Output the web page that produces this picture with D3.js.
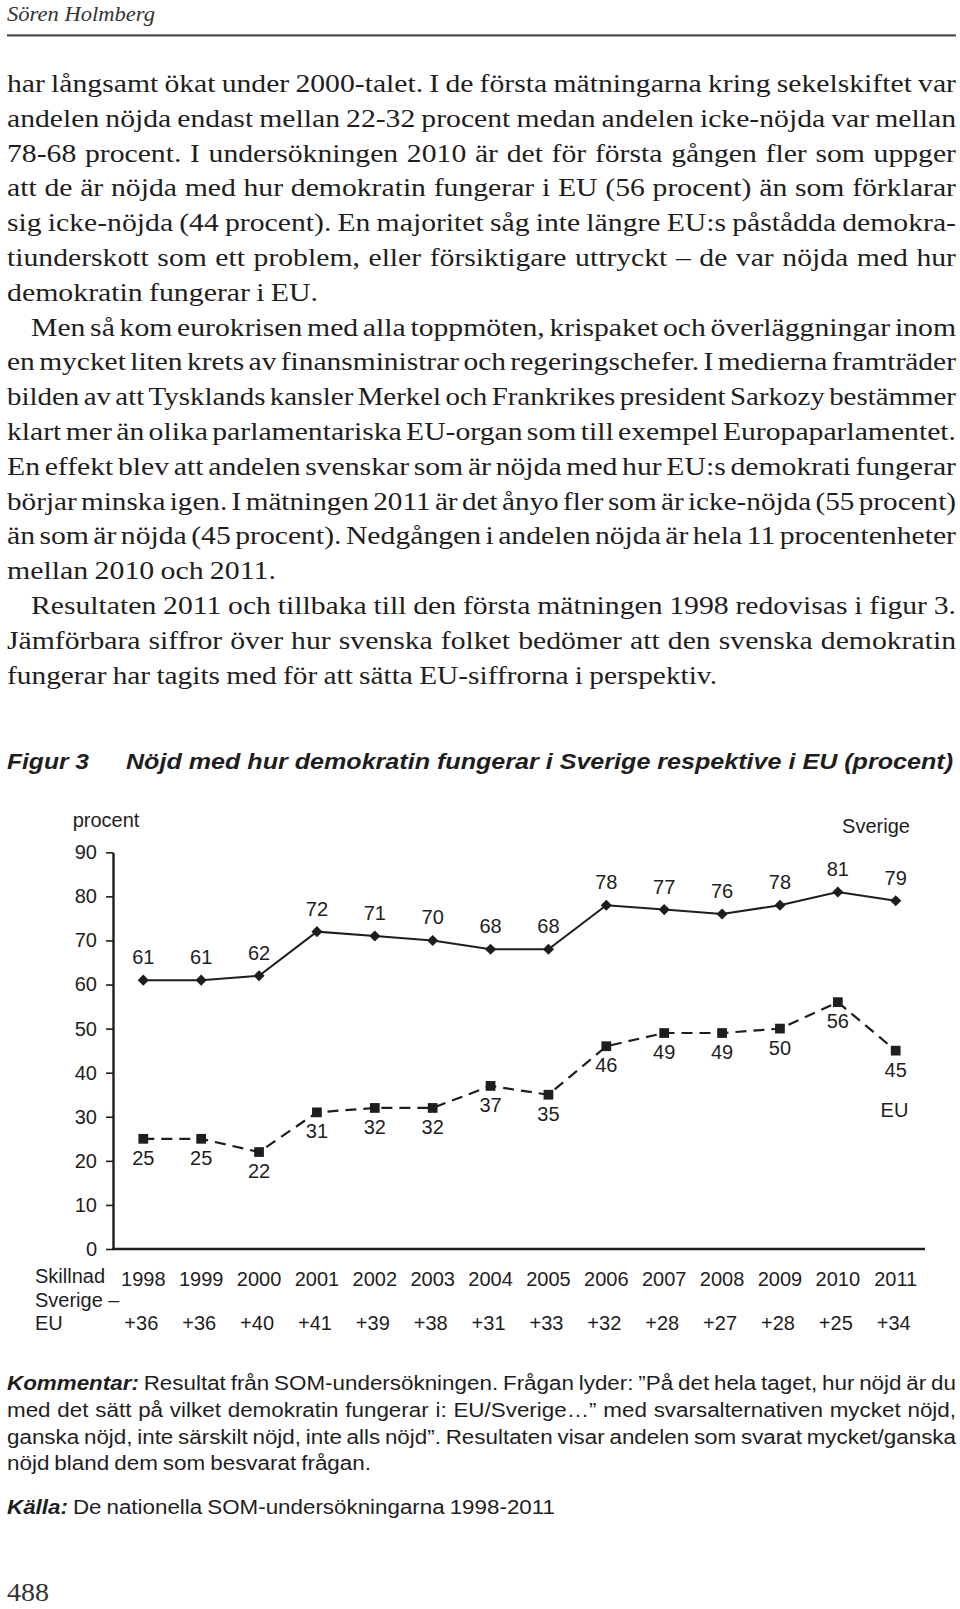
<!DOCTYPE html>
<html>
<head>
<meta charset="utf-8">
<script src="https://cdn.jsdelivr.net/npm/d3@7"></script>
<style>
  html, body { margin: 0; padding: 0; background: #fff; }
  svg { display: block; }
</style>
</head>
<body>
<svg id="page" width="960" height="1609"></svg>
<script>
// ---------------- data ----------------
const years = [1998, 1999, 2000, 2001, 2002, 2003, 2004, 2005, 2006, 2007, 2008, 2009, 2010, 2011];
const sverige = [61, 61, 62, 72, 71, 70, 68, 68, 78, 77, 76, 78, 81, 79];
const eu = [25, 25, 22, 31, 32, 32, 37, 35, 46, 49, 49, 50, 56, 45];
const skillnad = [36, 36, 40, 41, 39, 38, 31, 33, 32, 28, 27, 28, 25, 34];
const yTicks = [0, 10, 20, 30, 40, 50, 60, 70, 80, 90];

const headerText = "Sören Holmberg";
const figLabel = "Figur 3";
const figTitle = "Nöjd med hur demokratin fungerar i Sverige respektive i EU (procent)";
const yAxisTitle = "procent";
const seriesNames = ["Sverige", "EU"];
const diffLabel = ["Skillnad", "Sverige –", "EU"];
const pageNumber = "488";

const bodyLines = [
  "har långsamt ökat under 2000-talet. I de första mätningarna kring sekelskiftet var",
  "andelen nöjda endast mellan 22-32 procent medan andelen icke-nöjda var mellan",
  "78-68 procent. I undersökningen 2010 är det för första gången fler som uppger",
  "att de är nöjda med hur demokratin fungerar i EU (56 procent) än som förklarar",
  "sig icke-nöjda (44 procent). En majoritet såg inte längre EU:s påstådda demokra-",
  "tiunderskott som ett problem, eller försiktigare uttryckt – de var nöjda med hur",
  "demokratin fungerar i EU.",
  "Men så kom eurokrisen med alla toppmöten, krispaket och överläggningar inom",
  "en mycket liten krets av finansministrar och regeringschefer. I medierna framträder",
  "bilden av att Tysklands kansler Merkel och Frankrikes president Sarkozy bestämmer",
  "klart mer än olika parlamentariska EU-organ som till exempel Europaparlamentet.",
  "En effekt blev att andelen svenskar som är nöjda med hur EU:s demokrati fungerar",
  "börjar minska igen. I mätningen 2011 är det ånyo fler som är icke-nöjda (55 procent)",
  "än som är nöjda (45 procent). Nedgången i andelen nöjda är hela 11 procentenheter",
  "mellan 2010 och 2011.",
  "Resultaten 2011 och tillbaka till den första mätningen 1998 redovisas i figur 3.",
  "Jämförbara siffror över hur svenska folket bedömer att den svenska demokratin",
  "fungerar har tagits med för att sätta EU-siffrorna i perspektiv."
];
const bodyIndent = [0,0,0,0,0,0,0,1,0,0,0,0,0,0,0,1,0,0];
const bodyEnd = [956,956,956,956,956,956,318,956,956,956,956,956,956,956,276,956,956,717];
const bodyLast = [0,0,0,0,0,0,1,0,0,0,0,0,0,0,1,0,0,1];

const noteLines = [
  "Kommentar: Resultat från SOM-undersökningen. Frågan lyder: ”På det hela taget, hur nöjd är du",
  "med det sätt på vilket demokratin fungerar i: EU/Sverige…” med svarsalternativen mycket nöjd,",
  "ganska nöjd, inte särskilt nöjd, inte alls nöjd”. Resultaten visar andelen som svarat mycket/ganska",
  "nöjd bland dem som besvarat frågan.",
  "Källa: De nationella SOM-undersökningarna 1998-2011"
];
const noteEnd = [956, 956, 956, 371, 555];
const noteLast = [0, 0, 0, 1, 1];
const boldWords = ["Kommentar:", "Källa:"];

// ---------------- page ----------------
const svg = d3.select("#page");
svg.append("rect").attr("width", 960).attr("height", 1609).attr("fill", "#fff");

const ink = "#1e1e1e";
const serif = "'Liberation Serif', 'DejaVu Serif', serif";
const sans = "'Liberation Sans', Arial, sans-serif";

// header
svg.append("text").attr("x", 7).attr("y", 21)
  .attr("font-family", serif).attr("font-style", "italic").attr("font-size", 21)
  .attr("fill", "#333").attr("textLength", 148).attr("lengthAdjust", "spacingAndGlyphs")
  .text(headerText);
svg.append("rect").attr("x", 7).attr("y", 34.3).attr("width", 949).attr("height", 2.2).attr("fill", "#4a4a4a");

// paragraph layout: words measured, horizontally scaled by a common factor, then justified
function setParagraph(parent, lines, starts, ends, lastFlags, baselines, font, size, spaceEm, boldFn) {
  const rows = lines.map((str, i) => {
    const words = str.split(" ");
    const t = parent.append("text").attr("y", baselines[i])
      .attr("font-family", font).attr("font-size", size).attr("fill", ink);
    const spans = words.map(w => {
      const s = t.append("tspan").text(w);
      if (boldFn && boldFn(w)) s.attr("font-weight", "bold").attr("font-style", "italic");
      return s;
    });
    const widths = spans.map(s => s.node().getComputedTextLength());
    return { spans, widths, sum: d3.sum(widths), n: words.length, x0: starts[i], x1: ends[i], last: lastFlags[i] };
  });
  const nat = spaceEm * size;
  const ks = rows.filter(r => r.last).map(r => (r.x1 - r.x0 - (r.n - 1) * nat) / r.sum);
  const k = d3.mean(ks);
  rows.forEach(r => {
    let kk = k;
    const W = r.x1 - r.x0;
    let gap = r.n > 1 ? (W - r.sum * kk) / (r.n - 1) : 0;
    const minGap = nat * 0.7;
    if (r.n > 1 && gap < minGap) { kk = (W - (r.n - 1) * minGap) / r.sum; gap = minGap; }
    if (r.last) { kk = (W - (r.n - 1) * nat) / r.sum; gap = nat; }
    let cx = r.x0;
    r.spans.forEach((s, i) => {
      const w = r.widths[i] * kk;
      s.attr("x", cx).attr("textLength", w).attr("lengthAdjust", "spacingAndGlyphs");
      cx += w + gap;
    });
  });
}

const body = svg.append("g");
setParagraph(body, bodyLines,
  bodyIndent.map(d => d ? 31 : 7), bodyEnd, bodyLast,
  bodyLines.map((d, i) => 92 + i * 34.8), serif, 26, 0.24);

// figure title
svg.append("text").attr("x", 7).attr("y", 769)
  .attr("font-family", sans).attr("font-weight", "bold").attr("font-style", "italic")
  .attr("font-size", 22).attr("fill", ink)
  .attr("textLength", 82).attr("lengthAdjust", "spacingAndGlyphs").text(figLabel);
svg.append("text").attr("x", 126).attr("y", 769)
  .attr("font-family", sans).attr("font-weight", "bold").attr("font-style", "italic")
  .attr("font-size", 22).attr("fill", ink)
  .attr("textLength", 827).attr("lengthAdjust", "spacingAndGlyphs").text(figTitle);

// ---------------- chart ----------------
const chart = svg.append("g").attr("font-family", sans).attr("fill", ink);
const plotLeft = 113, plotRight = 925;
const x = d3.scalePoint().domain(years).range([143.3, 895.7]);
const y = d3.scaleLinear().domain([0, 90]).range([1249, 852.3]);

const yAxis = d3.axisLeft(y).tickValues(yTicks).tickSize(7).tickSizeOuter(0).tickPadding(9);
const ga = chart.append("g").attr("transform", `translate(${plotLeft},0)`).call(yAxis);
ga.selectAll("path.domain").attr("stroke", ink).attr("stroke-width", 2.4);
ga.selectAll(".tick line").attr("stroke", ink).attr("stroke-width", 1.6);
ga.selectAll(".tick text").attr("font-size", 20).attr("font-family", sans).attr("fill", ink);

chart.append("line").attr("x1", plotLeft - 1).attr("x2", plotRight)
  .attr("y1", y(0)).attr("y2", y(0)).attr("stroke", ink).attr("stroke-width", 2.4);

chart.append("text").attr("x", 72.7).attr("y", 827).attr("font-size", 20).text(yAxisTitle);

const sv = years.map((yr, i) => ({ year: yr, v: sverige[i] }));
const ev = years.map((yr, i) => ({ year: yr, v: eu[i] }));
const line = d3.line().x(d => x(d.year)).y(d => y(d.v));

chart.append("path").datum(sv).attr("d", line).attr("fill", "none")
  .attr("stroke", ink).attr("stroke-width", 2);
chart.append("path").datum(ev).attr("d", line).attr("fill", "none")
  .attr("stroke", ink).attr("stroke-width", 2.2).attr("stroke-dasharray", "11,7");

const diamond = d3.symbol().type(d3.symbolSquare).size(62);
const square = d3.symbol().type(d3.symbolSquare).size(95);
chart.selectAll("path.dia").data(sv).join("path").attr("class", "dia")
  .attr("d", diamond).attr("fill", ink)
  .attr("transform", d => `translate(${x(d.year)},${y(d.v)}) rotate(45)`);
chart.selectAll("path.sq").data(ev).join("path").attr("class", "sq")
  .attr("d", square).attr("fill", ink)
  .attr("transform", d => `translate(${x(d.year)},${y(d.v)})`);

chart.selectAll("text.svl").data(sv).join("text").attr("class", "svl")
  .attr("x", d => x(d.year)).attr("y", d => y(d.v) - 16)
  .attr("text-anchor", "middle").attr("font-size", 20).text(d => d.v);
chart.selectAll("text.eul").data(ev).join("text").attr("class", "eul")
  .attr("x", d => x(d.year)).attr("y", d => y(d.v) + 26)
  .attr("text-anchor", "middle").attr("font-size", 20).text(d => d.v);

chart.append("text").attr("x", 876).attr("y", 833).attr("text-anchor", "middle")
  .attr("font-size", 20).text(seriesNames[0]);
chart.append("text").attr("x", 894.5).attr("y", 1117).attr("text-anchor", "middle")
  .attr("font-size", 20).text(seriesNames[1]);

chart.selectAll("text.yr").data(years).join("text").attr("class", "yr")
  .attr("x", d => x(d)).attr("y", 1286).attr("text-anchor", "middle")
  .attr("font-size", 20).text(d => d);
chart.selectAll("text.df").data(years).join("text").attr("class", "df")
  .attr("x", d => x(d) - 2).attr("y", 1330).attr("text-anchor", "middle")
  .attr("font-size", 20).text((d, i) => "+" + skillnad[i]);
diffLabel.forEach((t, i) => {
  chart.append("text").attr("x", 35).attr("y", [1283, 1307, 1330][i])
    .attr("font-size", 20).text(t);
});

// ---------------- notes ----------------
const notes = svg.append("g");
setParagraph(notes, noteLines, noteLines.map(() => 7), noteEnd, noteLast,
  [1390, 1416.8, 1443.6, 1470.4, 1514], sans, 20, 0.25, w => boldWords.includes(w));

svg.append("text").attr("x", 7).attr("y", 1601).attr("font-family", serif)
  .attr("font-size", 26).attr("fill", "#333")
  .attr("textLength", 42).attr("lengthAdjust", "spacingAndGlyphs").text(pageNumber);
</script>
</body>
</html>
